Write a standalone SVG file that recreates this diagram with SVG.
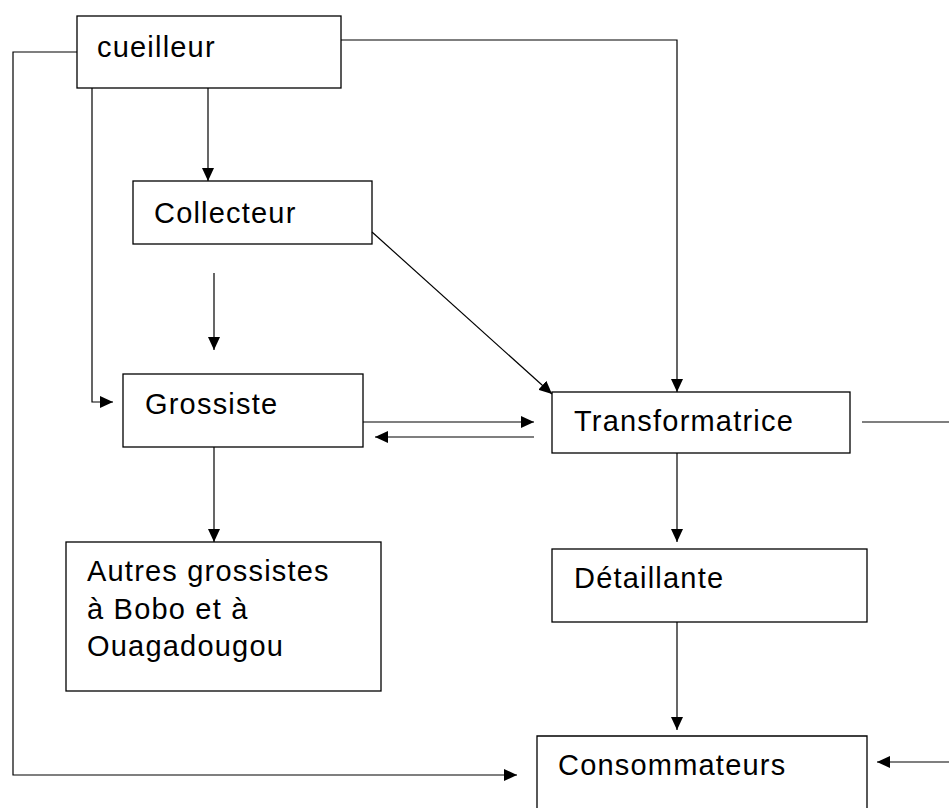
<svg xmlns="http://www.w3.org/2000/svg" width="949" height="808" viewBox="0 0 949 808">
<defs>
<style>
.box{fill:none;stroke:#000;stroke-width:1.3}
.ln{fill:none;stroke:#000;stroke-width:1.2}
.t{font-family:"Liberation Sans",Arial,sans-serif;font-size:29px;letter-spacing:1.2px;fill:#000}
</style>
<marker id="ah" viewBox="0 0 13 12" refX="13" refY="6" markerWidth="13" markerHeight="12" markerUnits="userSpaceOnUse" orient="auto">
<path d="M0,0 L13,6 L0,12 Z" fill="#000"/>
</marker>
</defs>
<rect width="949" height="808" fill="#fff"/>
<g id="connectors">
<path class="ln" d="M208,88 V181" marker-end="url(#ah)"/>
<path class="ln" d="M214,273 V350" marker-end="url(#ah)"/>
<path class="ln" d="M92,88 V402 H113" marker-end="url(#ah)"/>
<path class="ln" d="M77,52 H13 V775 H517" marker-end="url(#ah)"/>
<path class="ln" d="M372,232 L552,394" marker-end="url(#ah)"/>
<path class="ln" d="M341,40 H677 V392" marker-end="url(#ah)"/>
<path class="ln" d="M363,422 H534" marker-end="url(#ah)"/>
<path class="ln" d="M534,437 H375" marker-end="url(#ah)"/>
<path class="ln" d="M862,422 H949"/>
<path class="ln" d="M949,762 H877" marker-end="url(#ah)"/>
<path class="ln" d="M677,453 V542" marker-end="url(#ah)"/>
<path class="ln" d="M677,622 V730" marker-end="url(#ah)"/>
<path class="ln" d="M214,447 V542" marker-end="url(#ah)"/>
</g>
<g id="cueilleur">
<rect class="box" x="77" y="16" width="264" height="72"/>
<text class="t" x="97" y="57">cueilleur</text>
</g>
<g id="collecteur">
<rect class="box" x="133" y="181" width="239" height="63"/>
<text class="t" x="154" y="223">Collecteur</text>
</g>
<g id="grossiste">
<rect class="box" x="123" y="374" width="240" height="73"/>
<text class="t" x="145" y="414">Grossiste</text>
</g>
<g id="transformatrice">
<rect class="box" x="552" y="392" width="298" height="61"/>
<text class="t" x="574" y="431">Transformatrice</text>
</g>
<g id="autres">
<rect class="box" x="66" y="542" width="315" height="149"/>
<text class="t" x="87" y="581">Autres grossistes</text>
<text class="t" x="87" y="619">à Bobo et à</text>
<text class="t" x="87" y="656">Ouagadougou</text>
</g>
<g id="detaillante">
<rect class="box" x="552" y="549" width="315" height="73"/>
<text class="t" x="574" y="588">Détaillante</text>
</g>
<g id="consommateurs">
<path class="box" d="M537,810 V736 H867 V810"/>
<text class="t" x="558" y="775">Consommateurs</text>
</g>
</svg>
